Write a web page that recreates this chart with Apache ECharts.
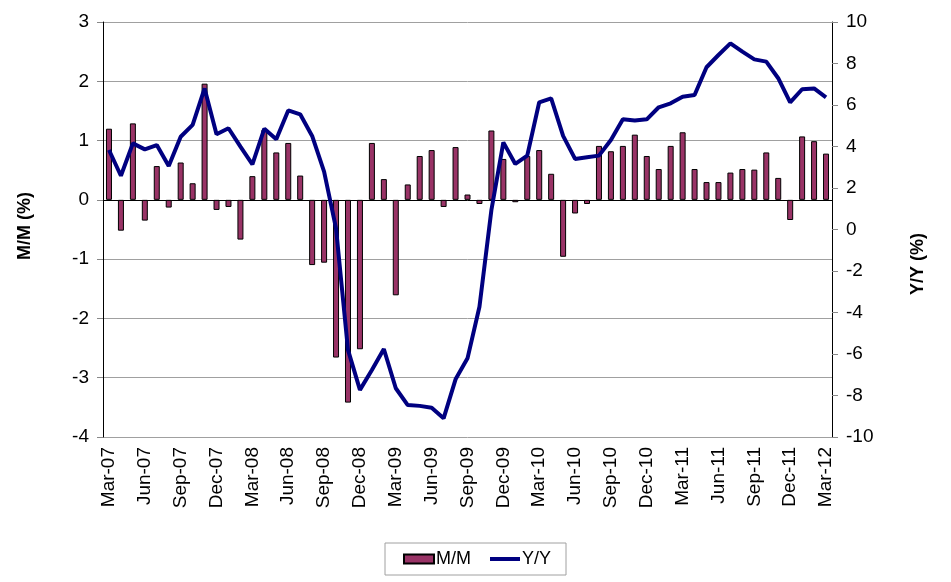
<!DOCTYPE html>
<html>
<head>
<meta charset="utf-8">
<script src="https://cdn.jsdelivr.net/npm/echarts@6/dist/echarts.min.js"></script>
<style>
  html, body { margin: 0; padding: 0; background: #fff; }
  #chart { width: 951px; height: 582px; }
</style>
</head>
<body>
<div id="chart"></div>
<script>
// monthly, Mar-07 .. Mar-12
const months = [
  'Mar-07','Apr-07','May-07','Jun-07','Jul-07','Aug-07','Sep-07','Oct-07','Nov-07','Dec-07',
  'Jan-08','Feb-08','Mar-08','Apr-08','May-08','Jun-08','Jul-08','Aug-08','Sep-08','Oct-08',
  'Nov-08','Dec-08','Jan-09','Feb-09','Mar-09','Apr-09','May-09','Jun-09','Jul-09','Aug-09',
  'Sep-09','Oct-09','Nov-09','Dec-09','Jan-10','Feb-10','Mar-10','Apr-10','May-10','Jun-10',
  'Jul-10','Aug-10','Sep-10','Oct-10','Nov-10','Dec-10','Jan-11','Feb-11','Mar-11','Apr-11',
  'May-11','Jun-11','Jul-11','Aug-11','Sep-11','Oct-11','Nov-11','Dec-11','Jan-12','Feb-12',
  'Mar-12'
];

// M/M (%), left axis
const mmValues = [
  1.20, -0.52, 1.29, -0.35, 0.57, -0.13, 0.63, 0.28, 1.96, -0.17,
  -0.12, -0.67, 0.40, 1.18, 0.80, 0.96, 0.41, -1.10, -1.06, -2.66,
  -3.42, -2.52, 0.96, 0.35, -1.61, 0.26, 0.74, 0.84, -0.12, 0.89,
  0.09, -0.07, 1.17, 0.69, -0.04, 0.74, 0.84, 0.44, -0.96, -0.23,
  -0.07, 0.91, 0.82, 0.91, 1.10, 0.74, 0.52, 0.91, 1.14, 0.52,
  0.30, 0.30, 0.46, 0.52, 0.51, 0.80, 0.37, -0.34, 1.07, 0.99,
  0.78
];

// Y/Y (%), right axis
const yyValues = [
  3.83, 2.59, 4.15, 3.86, 4.07, 3.06, 4.47, 5.04, 6.80, 4.59,
  4.88, 3.99, 3.14, 4.86, 4.35, 5.74, 5.55, 4.51, 2.79, 0.05,
  -5.80, -7.73, -6.77, -5.76, -7.65, -8.46, -8.50, -8.59, -9.10, -7.22,
  -6.21, -3.72, 0.94, 4.20, 3.16, 3.56, 6.13, 6.32, 4.51, 3.40,
  3.48, 3.56, 4.31, 5.31, 5.25, 5.31, 5.89, 6.08, 6.40, 6.48,
  7.82, 8.41, 8.97, 8.57, 8.20, 8.09, 7.29, 6.13, 6.76, 6.80,
  6.37
];

const font = 'Liberation Sans, Arial, sans-serif';
const chart = echarts.init(document.getElementById('chart'));

chart.setOption({
  animation: false,
  backgroundColor: '#fff',
  grid: { left: 103, right: 119, top: 22, bottom: 145 },
  legend: {
    left: 385, top: 543,
    padding: [7, 15, 7, 18],
    borderColor: '#a0a0a0', borderWidth: 1,
    itemGap: 17, itemWidth: 30, itemHeight: 9,
    textStyle: { fontSize: 18, color: '#000', fontFamily: font, padding: [0, 0, 0, -3] },
    data: [
      { name: 'M/M', icon: 'rect' },
      // line only, no marker in the legend
      { name: 'Y/Y', itemStyle: { opacity: 0 }, lineStyle: { width: 4, color: '#000080' } }
    ]
  },
  xAxis: [
    {
      type: 'category',
      data: months,
      axisLine: { show: false },
      axisTick: { show: false },
      axisLabel: {
        interval: 2, rotate: 90, margin: 10,
        fontSize: 19, color: '#000', fontFamily: font
      },
      splitLine: { show: false }
    },
    {
      // zero line of the M/M axis
      type: 'category',
      data: months,
      position: 'bottom',
      axisLine: { show: true, onZero: true, onZeroAxisIndex: 0, lineStyle: { color: '#000', width: 1 } },
      axisTick: { show: false },
      axisLabel: { show: false },
      splitLine: { show: false }
    }
  ],
  yAxis: [
    {
      type: 'value', min: -4, max: 3, interval: 1,
      axisLine: { show: true, lineStyle: { color: '#000' } },
      axisTick: { show: true, length: 6, lineStyle: { color: '#888' } },
      axisLabel: { fontSize: 19, color: '#000', fontFamily: font, margin: 14 },
      splitLine: { lineStyle: { color: '#a0a0a0', width: 1 } }
    },
    {
      type: 'value', min: -10, max: 10, interval: 2,
      axisLine: { show: true, lineStyle: { color: '#000' } },
      axisTick: { show: true, length: 6, lineStyle: { color: '#888' } },
      axisLabel: { fontSize: 19, color: '#000', fontFamily: font, margin: 14 },
      splitLine: { show: false }
    }
  ],
  graphic: [
    {
      type: 'text', x: 25, y: 226, rotation: Math.PI / 2,
      style: { text: 'M/M (%)', font: 'bold 18px ' + font, fill: '#000', align: 'center', verticalAlign: 'middle' }
    },
    {
      type: 'text', x: 918, y: 264, rotation: Math.PI / 2,
      style: { text: 'Y/Y (%)', font: 'bold 18px ' + font, fill: '#000', align: 'center', verticalAlign: 'middle' }
    }
  ],
  series: [
    {
      name: 'M/M',
      type: 'bar',
      data: mmValues,
      barWidth: 6,
      itemStyle: { color: '#993366', borderColor: '#000', borderWidth: 1 }
    },
    {
      name: 'Y/Y',
      type: 'line',
      yAxisIndex: 1,
      data: yyValues,
      symbol: 'none',
      lineStyle: { color: '#000080', width: 4 },
      itemStyle: { color: '#000080' }
    }
  ]
});
</script>
</body>
</html>
